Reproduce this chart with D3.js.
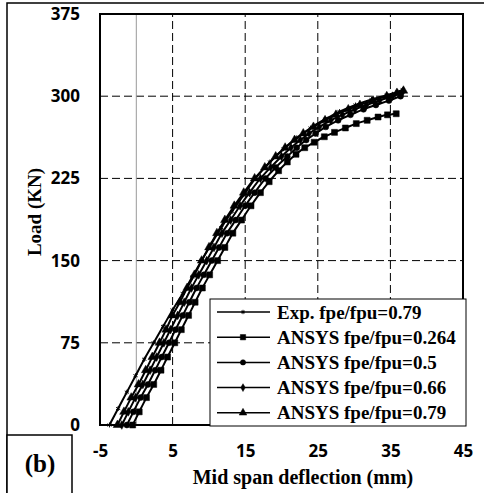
<html>
<head>
<meta charset="utf-8">
<script src="https://d3js.org/d3.v7.min.js"></script>
<style>
  body { margin: 0; background: #fff; }
  .tick text { font-family: "Open Sans", sans-serif; font-weight: bold; font-size: 17px; }
  .serif { font-family: "Liberation Serif", "Times New Roman", serif; font-weight: bold; }
</style>
</head>
<body>
<script>
// deflection (mm), load (kN) pairs
var expData = [[-3.7,0],[-2.5,15],[-1.3,30],[-0.1,45],[1.1,60],[2.4,75],[3.7,90],[5.0,105],[6.4,120],[7.7,135],[9.0,150],[10.3,165],[11.7,180],[13.2,195],[14.8,210],[16.4,225],[18.4,240],[20.3,252],[22.1,262],[24.0,271],[26.0,279],[28.0,286],[30.2,292],[32.4,297],[34.5,301],[36.0,304],[36.7,306]];
var ans264 = [[-0.5,0],[0.4,12],[1.4,25],[2.4,37],[3.4,50],[4.3,62],[5.3,75],[6.2,87],[7.2,100],[8.1,112],[9.1,125],[10.1,137],[11.2,150],[12.2,162],[13.3,175],[14.5,187],[15.8,200],[17.1,212],[18.3,222],[19.6,232],[20.8,240],[22.0,247],[23.2,253],[24.5,258],[25.9,263],[27.3,267],[28.8,271],[30.3,275],[31.8,278],[33.3,281],[34.6,283],[35.8,284]];
var ans50 = [[-1.3,0],[-0.4,12],[0.6,25],[1.6,37],[2.6,50],[3.5,62],[4.5,75],[5.4,87],[6.4,100],[7.3,112],[8.3,125],[9.3,137],[10.4,150],[11.4,162],[12.5,175],[13.7,187],[15.0,200],[16.3,212],[17.8,225],[19.2,235],[20.8,245],[22.1,253],[23.4,260],[24.7,266],[26.1,272],[27.8,278],[29.5,283],[31.3,288],[33.0,292],[34.8,296],[36.4,300]];
var ans66 = [[-2.0,0],[-1.1,12],[-0.1,25],[0.9,37],[1.9,50],[2.8,62],[3.8,75],[4.7,87],[5.7,100],[6.6,112],[7.6,125],[8.6,137],[9.7,150],[10.7,162],[11.8,175],[13.0,187],[14.3,200],[15.6,212],[17.1,225],[18.5,235],[20.0,245],[21.3,253],[22.6,260],[23.8,266],[25.2,272],[26.8,278],[28.4,283],[30.1,288],[31.7,292],[33.5,296],[35.3,300],[36.6,303]];
var ans79 = [[-2.6,0],[-1.7,12],[-0.7,25],[0.3,37],[1.3,50],[2.2,62],[3.2,75],[4.1,87],[5.0,100],[6.0,112],[7.0,125],[8.0,137],[9.0,150],[10.0,162],[11.1,175],[12.2,187],[13.5,200],[14.8,212],[16.3,225],[17.7,235],[19.2,245],[20.5,253],[21.8,260],[23.0,266],[24.4,272],[26.0,278],[27.5,283],[29.2,288],[30.8,292],[32.6,296],[34.5,300],[35.9,303],[36.8,305]];

var seriesNames = ["Exp. fpe/fpu=0.79", "ANSYS fpe/fpu=0.264", "ANSYS fpe/fpu=0.5", "ANSYS fpe/fpu=0.66", "ANSYS fpe/fpu=0.79"];
var xTicks = [-5, 5, 15, 25, 35, 45];
var yTicks = [0, 75, 150, 225, 300, 375];

var series = [
  {name: seriesNames[0], data: expData, sym: d3.symbolAsterisk, size: 16, stroke: true},
  {name: seriesNames[1], data: ans264, sym: d3.symbolSquare, size: 36},
  {name: seriesNames[2], data: ans50, sym: d3.symbolCircle, size: 28},
  {name: seriesNames[3], data: ans66, sym: d3.symbolDiamond, size: 22},
  {name: seriesNames[4], data: ans79, sym: d3.symbolTriangle, size: 32}
];

var svg = d3.select("body").append("svg").attr("width", 484).attr("height", 493);

// outer frame
svg.append("rect").attr("x", 7).attr("y", 3).attr("width", 500).attr("height", 520)
  .attr("fill", "none").attr("stroke", "#000").attr("stroke-width", 1.5);

var x = d3.scaleLinear().domain([-5, 45]).range([100, 463]);
var y = d3.scaleLinear().domain([0, 375]).range([425, 14]);

// grid
svg.append("g").selectAll("line").data([5, 15, 25, 35]).enter().append("line")
  .attr("x1", d => x(d)).attr("x2", d => x(d)).attr("y1", y(0)).attr("y2", y(375))
  .attr("stroke", "#000").attr("stroke-width", 1).attr("stroke-dasharray", "8,4");
svg.append("g").selectAll("line").data([75, 150, 225, 300]).enter().append("line")
  .attr("y1", d => y(d)).attr("y2", d => y(d)).attr("x1", x(-5)).attr("x2", x(45))
  .attr("stroke", "#000").attr("stroke-width", 1).attr("stroke-dasharray", "8,4");
svg.append("line").attr("x1", x(0)).attr("x2", x(0)).attr("y1", y(0)).attr("y2", y(375))
  .attr("stroke", "#999").attr("stroke-width", 1);

// plot frame
svg.append("rect").attr("x", x(-5)).attr("y", y(375)).attr("width", x(45) - x(-5)).attr("height", y(0) - y(375))
  .attr("fill", "none").attr("stroke", "#000").attr("stroke-width", 2);

// axes
var gx = svg.append("g").attr("transform", "translate(0," + y(0) + ")")
  .call(d3.axisBottom(x).tickValues(xTicks).tickFormat(d => String(d)).tickSize(0).tickPadding(20));
gx.select(".domain").remove();
var gy = svg.append("g").attr("transform", "translate(" + x(-5) + ",0)")
  .call(d3.axisLeft(y).tickValues(yTicks).tickFormat(d => String(d)).tickSize(0).tickPadding(20));
gy.select(".domain").remove();

// curves
var line = d3.line().curve(d3.curveMonotoneY).x(d => x(d[0])).y(d => y(d[1]));
series.forEach(function(s) {
  svg.append("path").datum(s.data).attr("d", line)
    .attr("fill", "none").attr("stroke", "#000").attr("stroke-width", 2);
  svg.append("g").selectAll("path").data(s.data).enter().append("path")
    .attr("transform", d => "translate(" + x(d[0]) + "," + y(d[1]) + ")")
    .attr("d", d3.symbol().type(s.sym).size(s.size))
    .attr("fill", s.stroke ? "none" : "#000")
    .attr("stroke", "#000").attr("stroke-width", s.stroke ? 1 : 0.5);
});

// legend
var lg = svg.append("g");
lg.append("rect").attr("x", 210).attr("y", 299).attr("width", 256).attr("height", 127)
  .attr("fill", "#fff").attr("stroke", "#000").attr("stroke-width", 1);
series.forEach(function(s, i) {
  var ly = 312 + i * 25.2;
  lg.append("line").attr("x1", 217).attr("x2", 270).attr("y1", ly).attr("y2", ly)
    .attr("stroke", "#000").attr("stroke-width", 1.5);
  lg.append("path").attr("transform", "translate(243," + ly + ")")
    .attr("d", d3.symbol().type(s.sym).size(s.size * 0.8))
    .attr("fill", s.stroke ? "none" : "#000").attr("stroke", "#000").attr("stroke-width", s.stroke ? 1 : 0.5);
  lg.append("text").attr("class", "serif").attr("x", 277).attr("y", ly).attr("dy", "0.35em")
    .attr("font-size", 19).text(s.name);
});

// axis titles
svg.append("text").attr("class", "serif").attr("x", 303).attr("y", 484)
  .attr("text-anchor", "middle").attr("font-size", 20).text("Mid span deflection (mm)");
svg.append("text").attr("class", "serif").attr("transform", "translate(41,212) rotate(-90)")
  .attr("text-anchor", "middle").attr("font-size", 19).text("Load (KN)");

// panel label
svg.append("rect").attr("x", 7).attr("y", 435).attr("width", 65).attr("height", 60)
  .attr("fill", "#fff").attr("stroke", "#000").attr("stroke-width", 1.5);
svg.append("text").attr("class", "serif").attr("x", 40).attr("y", 472)
  .attr("text-anchor", "middle").attr("font-size", 25).text("(b)");
</script>
</body>
</html>
